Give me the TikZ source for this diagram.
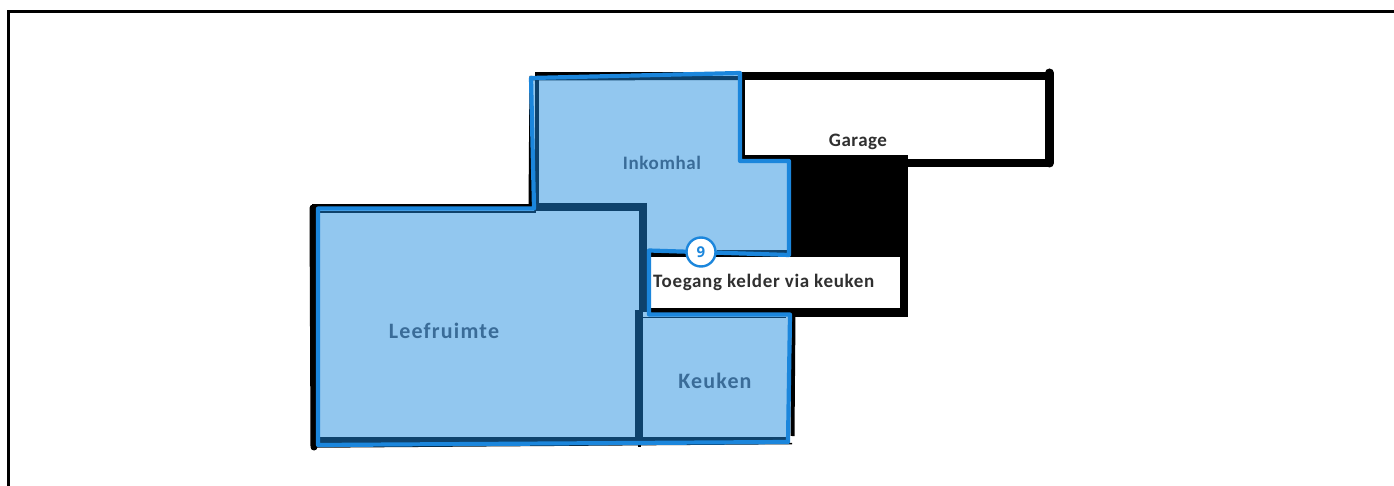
\documentclass[tikz,border=0pt]{standalone}
\usepackage{fontspec}
\setmainfont{Carlito}
\newfontfamily\badgefont{Open Sans}
\definecolor{roomfill}{HTML}{92C7EF}
\definecolor{roomline}{HTML}{1B86DC}
\definecolor{wallblue}{HTML}{0E426C}
\definecolor{roomtext}{HTML}{3A6C98}
\definecolor{blacktext}{HTML}{303030}
\tikzset{
  x=1pt,y=-1pt,
  wall/.style={line width=8pt,black},
  darkwall/.style={line width=8pt,wallblue},
  darkstrip/.style={line width=6pt,wallblue},
  roomoutline/.style={line width=4.2pt,roomline,line join=round},
  roomlabel/.style 2 args={font=\bfseries\fontsize{#1}{#1}\selectfont\addfontfeature{LetterSpace=#2},text=roomtext,inner sep=0pt},
  blacklabel/.style 2 args={font=\bfseries\fontsize{#1}{#1}\selectfont\addfontfeature{LetterSpace=#2},text=blacktext,inner sep=0pt},
  badge/.style={circle,draw=roomline,fill=white,line width=2.4pt,minimum size=29pt,inner sep=0pt,text=roomline,font=\badgefont\bfseries\fontsize{15}{15}\selectfont},
}
\begin{document}
\begin{tikzpicture}
\useasboundingbox (0,0) rectangle (1394,486);
% page frame
\draw[line width=3.5pt,black] (8.5,486) -- (8.5,11.5) -- (1394,11.5);
% black building walls
\fill[black] (790,155) rectangle (908,317);
\fill[white] (650,257) rectangle (900,308);
\fill[black] (648,250) rectangle (790,257);
\fill[black] (648,308) rectangle (795,316);
\draw[wall] (535,76) -- (1049,76);
\draw[wall] (905,163) -- (1049,163);
\draw[line width=9pt,black,line cap=round] (1049.5,73) -- (1049.5,163);
\draw[wall] (741,76) -- (741,159) -- (790,159);
\draw[black,line width=5pt] (532,76) -- (531,206);
\draw[black,line width=7pt,line cap=round] (313,208) -- (314,447);
\draw[black,line width=4pt] (312,206.5) -- (536,206.5);
\draw[black,line width=4pt] (793.5,313) -- (792.5,436);
\draw[black,line width=1.5pt] (792,443.5) -- (316,447);
\draw[black,line width=3pt] (639,440) -- (639,447);
% rooms
\fill[roomfill] (531,78) -- (740,73) -- (740,161) -- (789,161) -- (789,255) -- (649,250.5) -- (649,314) -- (790,314) -- (788,442) -- (318,445) -- (318,208) -- (534,208) -- cycle;
% dark inner strips
\draw[wallblue,line width=3.5pt] (537,78) -- (537,205);
\draw[wallblue,line width=4pt] (533,78.5) -- (739,78);
\draw[darkwall] (534,207) -- (647,207);
\draw[darkwall] (643,203) -- (643,312);
\draw[darkwall] (639,310) -- (639,443);
\draw[darkstrip] (319,440) -- (787,440);
\draw[wallblue,line width=3pt] (717,252) -- (787,252);
\draw[wallblue,line width=1pt] (643,317.5) -- (786,317.5);
\draw[wallblue,line width=2pt] (320,212) -- (536,212);
% room outline
\draw[roomoutline] (531,78) -- (740,73) -- (740,161) -- (789,161) -- (789,255) -- (649,250.5) -- (649,314.5) -- (790,314.5) -- (788,442) -- (318,445) -- (318,208.5) -- (534,208.5) -- cycle;
% labels
\node[blacklabel={19}{2.6}] (garage) at (858,142) {Garage};
\node[roomlabel={19}{3.3}] (inkomhal) at (662,163) {Inkomhal};
\node[roomlabel={22}{5.5}] (leefruimte) at (444,331) {Leefruimte};
\node[roomlabel={22}{5.2}] (keuken) at (715,381) {Keuken};
\node[blacklabel={19}{3.6},anchor=west] (toegang) at (653,282) {Toegang kelder via keuken};
\node[badge] (nine) at (701,252) {9};
\end{tikzpicture}
\end{document}
